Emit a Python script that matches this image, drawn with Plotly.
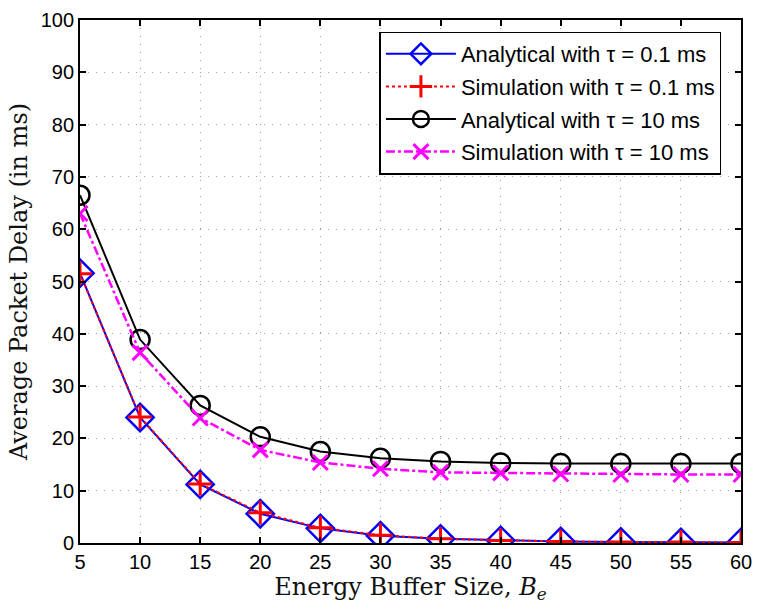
import plotly.graph_objects as go

# Energy buffer sizes
buffer_size = [5, 10, 15, 20, 25, 30, 35, 40, 45, 50, 55, 60]

# Average packet delay (ms)
analytical_01 = [51.6, 24.0, 11.2, 5.6, 2.8, 1.4, 0.8, 0.5, 0.3, 0.2, 0.1, 0.1]
simulation_01 = [51.5, 24.1, 11.3, 5.8, 2.9, 1.5, 0.8, 0.5, 0.3, 0.2, 0.2, 0.1]
analytical_10 = [66.5, 38.9, 26.3, 20.3, 17.5, 16.2, 15.6, 15.3, 15.2, 15.2, 15.2, 15.2]
simulation_10 = [63.0, 36.4, 23.9, 17.8, 15.4, 14.2, 13.5, 13.4, 13.2, 13.1, 13.1, 13.1]

x_ticks = [5, 10, 15, 20, 25, 30, 35, 40, 45, 50, 55, 60]
y_ticks = [0, 10, 20, 30, 40, 50, 60, 70, 80, 90, 100]

fig = go.Figure()

fig.add_trace(go.Scatter(
    x=buffer_size, y=analytical_01, mode="lines+markers",
    name="Analytical with \u03c4 = 0.1 ms", legendgroup="a",
    line=dict(color="#0000ff", width=2),
    marker=dict(symbol="diamond-open", size=21, color="#0000ff",
                line=dict(width=2.5, color="#0000ff")),
))
fig.add_trace(go.Scatter(
    x=buffer_size, y=simulation_01, mode="lines+markers",
    name="Simulation with \u03c4 = 0.1 ms", legendgroup="b",
    line=dict(color="#ff0000", width=2, dash="dot"),
    marker=dict(symbol="cross-thin-open", size=17, color="#ff0000",
                line=dict(width=3, color="#ff0000")),
))
fig.add_trace(go.Scatter(
    x=buffer_size, y=analytical_10, mode="lines+markers",
    name="Analytical with \u03c4 = 10 ms", legendgroup="c",
    line=dict(color="#000000", width=2),
    marker=dict(symbol="circle-open", size=19, color="#000000",
                line=dict(width=2.5, color="#000000")),
))
fig.add_trace(go.Scatter(
    x=buffer_size, y=simulation_10, mode="lines+markers",
    name="Simulation with \u03c4 = 10 ms", legendgroup="d",
    line=dict(color="#ff00ff", width=2.5, dash="dashdot"),
    marker=dict(symbol="x-thin-open", size=15, color="#ff00ff",
                line=dict(width=3, color="#ff00ff")),
))

axis_common = dict(
    showline=True, linecolor="black", linewidth=1.8, mirror="ticks",
    ticks="inside", ticklen=6, tickcolor="black", tickwidth=1.5,
    showgrid=True, gridcolor="#a0a0a0", griddash="1px,7px", gridwidth=1,
    zeroline=False, ticklabeloverflow="allow",
    tickfont=dict(family="Liberation Sans, Arial, sans-serif", size=20, color="black"),
)

title_font = dict(family="DejaVu Serif, serif", size=24, color="#111")

fig.update_xaxes(
    range=[5, 60], tickvals=x_ticks,
    title=dict(text="Energy Buffer Size, <i>B</i><sub><i>e</i></sub>",
               font=title_font, standoff=6),
    **axis_common,
)
fig.update_yaxes(
    range=[0, 100], tickvals=y_ticks,
    title=dict(text="Average Packet Delay (in ms)", font=title_font, standoff=6),
    **axis_common,
)

fig.update_layout(
    width=761, height=606,
    margin=dict(l=80, r=9, t=13, b=63),
    paper_bgcolor="white", plot_bgcolor="white",
    showlegend=True,
    legend=dict(
        x=0.453, y=0.978, xanchor="left", yanchor="top",
        bgcolor="white", bordercolor="black", borderwidth=1.5,
        font=dict(family="Liberation Sans, Arial, sans-serif", size=22, color="black"),
        itemwidth=70, tracegroupgap=1,
    ),
)

fig.write_html("out.html")
